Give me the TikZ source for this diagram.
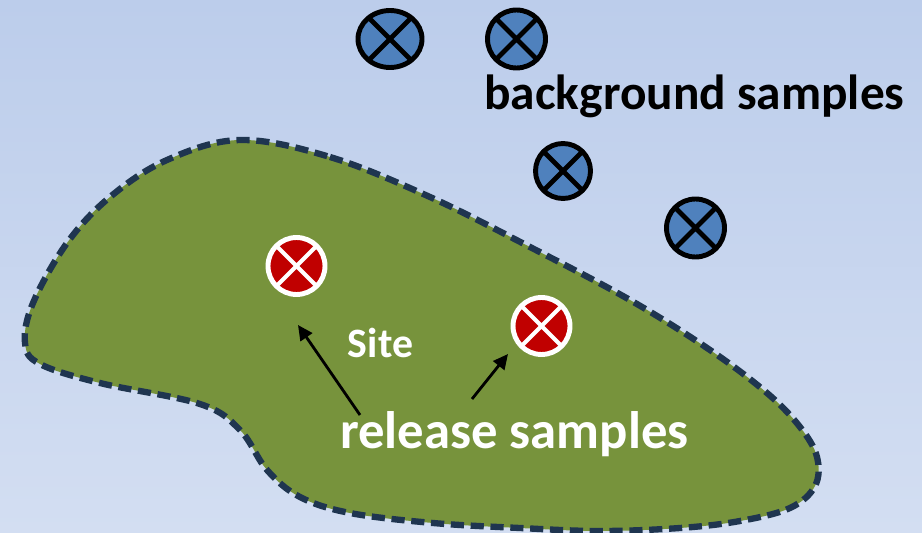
\documentclass[tikz,border=0pt]{standalone}
\usepackage{fontspec}
\setmainfont{Carlito}
\usetikzlibrary{arrows.meta,shapes.geometric}
\definecolor{bgtop}{HTML}{BCCDEB}
\definecolor{bgbot}{HTML}{D3DEF2}
\definecolor{sitegreen}{HTML}{77933C}
\definecolor{edgeblue}{HTML}{1F3550}
\definecolor{markblue}{HTML}{4F81BD}
\definecolor{markred}{HTML}{C00000}
\tikzset{
  pxl/.style={x=0.02cm,y=-0.02cm},
  xmark/.style={circle,inner sep=0pt,outer sep=0pt,minimum size=1.14cm,
    path picture={\draw[line width=#1]
      ([shift={(-0.5cm,0.5cm)}]path picture bounding box.center) -- ([shift={(0.5cm,-0.5cm)}]path picture bounding box.center)
      ([shift={(-0.5cm,-0.5cm)}]path picture bounding box.center) -- ([shift={(0.5cm,0.5cm)}]path picture bounding box.center);}},
  bgmark/.style={xmark=2.8pt,fill=markblue,draw=black,line width=2.8pt},
  relmark/.style={xmark=2.3pt,fill=markred,draw=white,line width=2.8pt,color=white},
  sitearea/.style={fill=sitegreen,draw=edgeblue,line width=3.6pt,dash pattern=on 7.5pt off 3.8pt},
  lbl/.style={inner sep=0pt,anchor=base},
  ptr/.style={-{Triangle[length=8.5pt,width=8pt]},line width=1.6pt,black}
}
\begin{document}
\begin{tikzpicture}[pxl]
\useasboundingbox (0,0) rectangle (922,533);
\shade[top color=bgtop,bottom color=bgbot] (0,0) rectangle (922,533);
\path[sitearea] plot[smooth cycle,tension=0.6] coordinates {
 (240,140) (330,157) (430,197) (530,247) (630,300) (710,350) (767,393)
 (800,427) (817,457) (815,486) (790,508) (740,521) (680,528) (600,531)
 (520,528) (433,523) (350,513) (300,497) (267,470) (240,430) (200,404)
 (100,383) (40,364) (25,343) (33,303) (67,243) (110,197) (167,160)};
% background samples
\node[bgmark,ellipse,minimum width=1.28cm,minimum height=1.14cm] (b1) at (390,39) {};
\node[bgmark,minimum size=1.16cm] (b2) at (516.5,39) {};
\node[bgmark,minimum size=1.1cm] (b3) at (563,171) {};
\node[bgmark,minimum size=1.16cm] (b4) at (695.5,228) {};
% release samples
\node[relmark,draw=white,fill=markred] (r1) at (296.5,266) {};
\node[relmark,draw=white,fill=markred] (r2) at (541.5,326) {};
% labels
\node[lbl,text=black,font=\bfseries\fontsize{28.1pt}{32pt}\selectfont] (bgl) at (694.5,110) {background samples};
\node[lbl,text=white,font=\bfseries\fontsize{23.8pt}{28pt}\selectfont] (site) at (380.5,357) {Site};
\node[lbl,text=white,font=\bfseries\fontsize{30pt}{34pt}\selectfont] (rell) at (514.5,448) {release samples};
% arrows
\coordinate (t1) at (360,415);
\coordinate (h1) at (298,325);
\coordinate (t2) at (472,399);
\coordinate (h2) at (508,354);
\draw[ptr] (t1) -- (h1);
\draw[ptr] (t2) -- (h2);
\end{tikzpicture}
\end{document}
